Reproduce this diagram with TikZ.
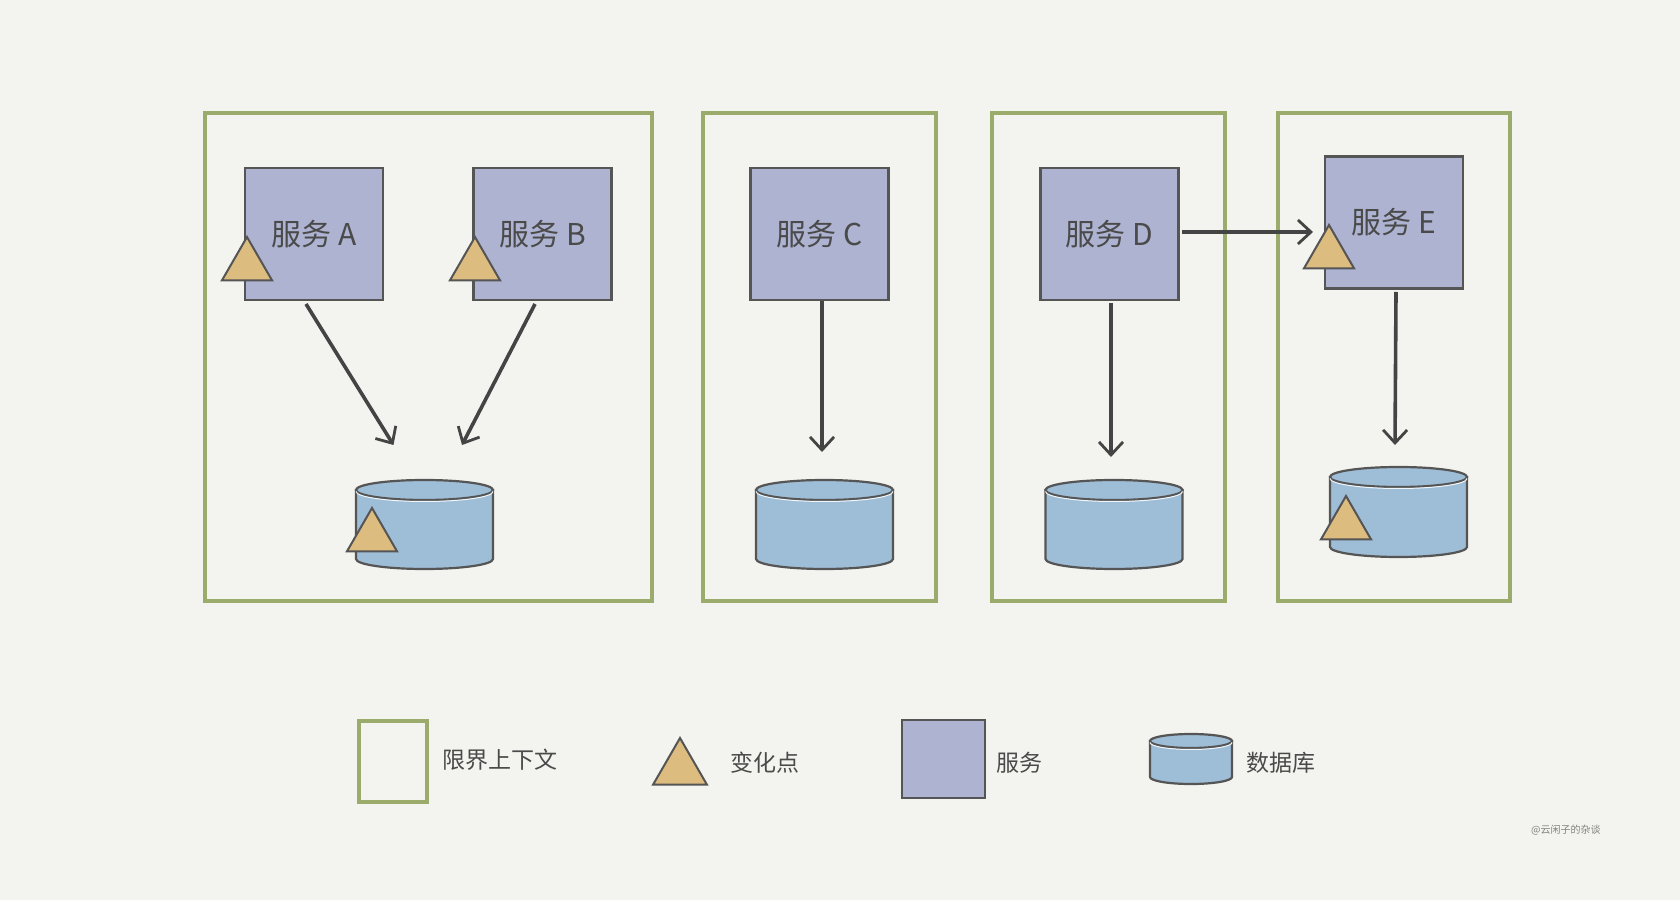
\documentclass[tikz,border=0pt]{standalone}
\usepackage{fontspec}
\newfontfamily\cjk{Noto Sans CJK SC}
\usetikzlibrary{arrows.meta,shapes.geometric,calc}
\definecolor{bgc}{HTML}{F3F3EF}
\definecolor{ctxgreen}{HTML}{9AAB6C}
\definecolor{svcfill}{HTML}{ADB3D1}
\definecolor{dbfill}{HTML}{9EBDD6}
\definecolor{trifill}{HTML}{DDBC80}
\definecolor{strokec}{HTML}{555555}
\definecolor{arrowc}{HTML}{444444}
\definecolor{textc}{HTML}{4A4A4A}
\tikzset{
  ctxbox/.style={draw=ctxgreen, line width=3.5pt, inner sep=0pt, outer sep=0pt},
  svcbox/.style={draw=strokec, fill=svcfill, line width=2.4pt, inner sep=0pt, outer sep=0pt,
     minimum width=138pt, minimum height=132pt, font=\cjk\fontsize{30}{34}\selectfont, text=textc},
  dbnode/.style={inner sep=0pt, outer sep=0pt, minimum width=137pt, minimum height=89pt},
  dbshape/.style={draw=strokec, fill=dbfill, line width=2.2pt},
  chg/.style={regular polygon, regular polygon sides=3, draw=strokec, fill=trifill,
     line width=2pt, inner sep=0pt, minimum size=58pt},
  arr/.style={draw=arrowc, line width=3.6pt, -{Straight Barb[length=13pt,width=24pt,line width=2.8pt]}},
  lgtext/.style={font=\cjk\fontsize{23}{26}\selectfont, text=textc, anchor=west, inner sep=0pt}
}
\newcommand{\drawdb}[3]{%
  \path[dbshape] ([yshift=-#3pt]#1.north west) -- ([yshift=#3pt]#1.south west)
     arc[start angle=180,end angle=360,x radius=#2pt,y radius=#3pt]
     -- ([yshift=-#3pt]#1.north east) -- cycle;
  \path[dbshape] ([yshift=-#3pt]#1.north) ellipse[x radius=#2pt, y radius=#3pt];
  \draw[white!85!dbfill, line width=1pt] ([yshift=-#3pt-1.5pt]#1.north west)
     arc[start angle=180,end angle=360,x radius=#2pt,y radius=#3pt];
}
\begin{document}
\begin{tikzpicture}[x=1pt,y=1pt]
\fill[bgc] (0,0) rectangle (1680,900);
\useasboundingbox (0,0) rectangle (1680,900);

% bounded contexts
\node[ctxbox, minimum width=447pt, minimum height=488pt] (ctx1) at (428.5,543) {};
\node[ctxbox, minimum width=233pt, minimum height=488pt] (ctx2) at (819.5,543) {};
\node[ctxbox, minimum width=233pt, minimum height=488pt] (ctx3) at (1108.5,543) {};
\node[ctxbox, minimum width=232pt, minimum height=488pt] (ctx4) at (1394,543) {};

% services
\node[svcbox] (svcA) at (314,666) {服务 A};
\node[svcbox] (svcB) at (542.5,666) {服务 B};
\node[svcbox] (svcC) at (819.5,666) {服务 C};
\node[svcbox] (svcD) at (1109.5,666) {服务 D};
\node[svcbox] (svcE) at (1394,677.5) {服务 E};

% databases
\node[dbnode] (db1) at (424.5,375.5) {};
\node[dbnode] (db2) at (824.5,375.5) {};
\node[dbnode] (db3) at (1114,375.5) {};
\node[dbnode, minimum height=90pt] (db4) at (1398.5,388) {};
\drawdb{db1}{68.5}{10}
\drawdb{db2}{68.5}{10}
\drawdb{db3}{68.5}{10}
\drawdb{db4}{68.5}{10}

% change points
\node[chg] (triA) at (247,634) {};
\node[chg] (triB) at (475,634) {};
\node[chg] (triDB1) at (372,363) {};
\node[chg] (triE) at (1329,646) {};
\node[chg] (triDB4) at (1346,375) {};

% connectors
\draw[arr] ([xshift=-8pt,yshift=-4pt]svcA.south) -- ([xshift=-31pt,yshift=35pt]db1.north);
\draw[arr] ([xshift=-7.5pt,yshift=-4pt]svcB.south) -- ([xshift=37.5pt,yshift=35pt]db1.north);
\draw[arr] ([xshift=2.5pt,yshift=-1pt]svcC.south) -- ([xshift=-2.5pt,yshift=28pt]db2.north);
\draw[arr] ([xshift=1.5pt,yshift=-3pt]svcD.south) -- ([xshift=-3pt,yshift=23pt]db3.north);
\draw[arr] ([xshift=3pt,yshift=2pt]svcD.east) -- ([xshift=-12pt,yshift=-9.5pt]svcE.west);
\draw[arr] ([xshift=2pt,yshift=-3.5pt]svcE.south) -- ([xshift=-3.5pt,yshift=22pt]db4.north);

% legend
\node[ctxbox, minimum width=68pt, minimum height=81pt] (lgCtx) at (393,138.5) {};
\node[lgtext] (lgCtxT) at (442,140) {限界上下文};
\node[chg, minimum size=62pt] (lgTri) at (680,131) {};
\node[lgtext] (lgTriT) at (730,137) {变化点};
\node[svcbox, minimum width=83pt, minimum height=78pt] (lgSvc) at (943.5,141) {};
\node[lgtext] (lgSvcT) at (996,137) {服务};
\node[dbnode, minimum width=82pt, minimum height=50pt] (lgDb) at (1191,141) {};
\drawdb{lgDb}{41}{7}
\node[lgtext] (lgDbT) at (1246,137) {数据库};

% watermark
\node[font=\cjk\fontsize{10}{12}\selectfont, text=gray, anchor=west, inner sep=0pt] (wm) at (1531,70) {@云闲子的杂谈};
\end{tikzpicture}
\end{document}
